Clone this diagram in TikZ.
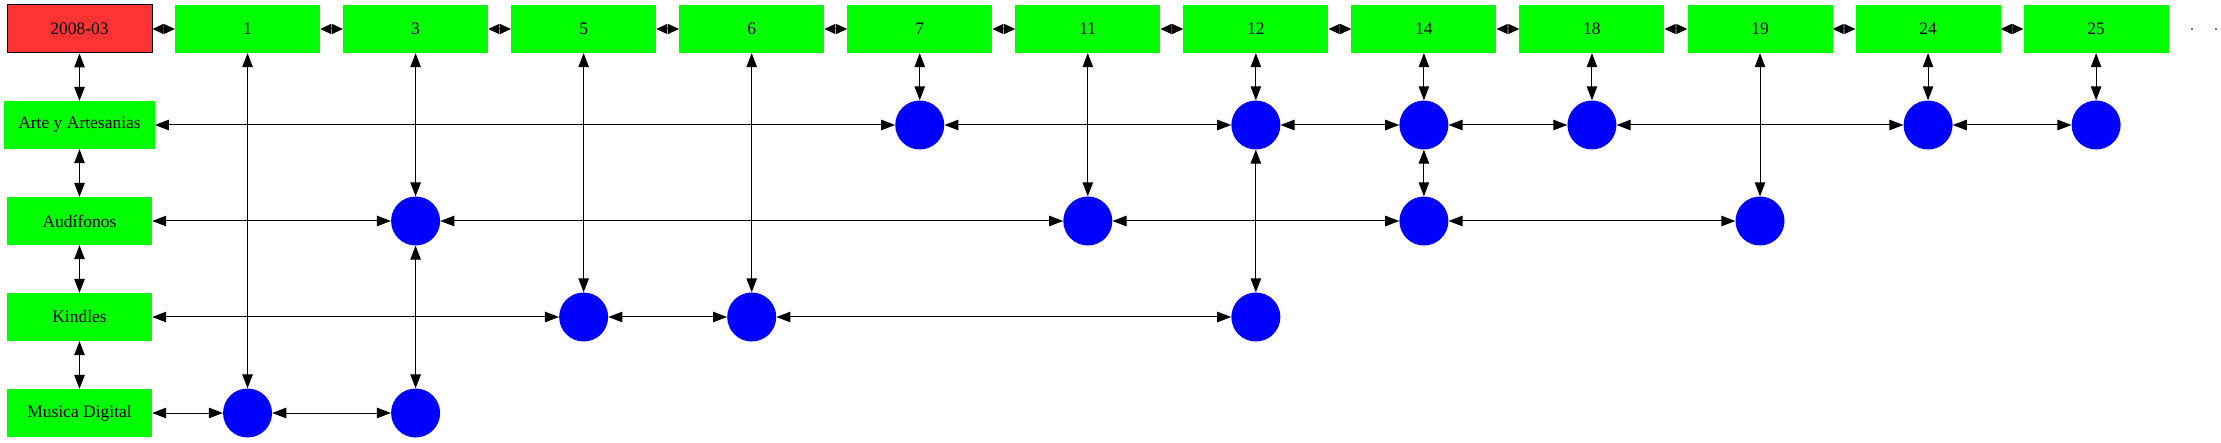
\documentclass[tikz,border=0pt]{standalone}
\usepackage{fontspec}
\setmainfont{Liberation Serif}
\usetikzlibrary{arrows.meta}
\definecolor{hitgreen}{RGB}{0,255,0}
\definecolor{hitred}{RGB}{255,51,51}
\definecolor{hitblue}{RGB}{0,0,255}
\definecolor{dotgray}{RGB}{120,120,120}
\tikzset{
  box/.style={fill=hitgreen, minimum width=145pt, minimum height=48pt, inner xsep=14pt,
    font=\fontsize{17.5}{20}\selectfont},
  dot/.style={circle, fill=hitblue, minimum size=49pt, inner sep=0pt},
  link/.style={{Triangle[length=14pt,width=10.5pt]}-{Triangle[length=14pt,width=10.5pt]}, line width=1pt},
  toplink/.style={{Triangle[length=11pt,width=10pt]}-{Triangle[length=11pt,width=10pt]}, line width=1pt}
}
\begin{document}
\begin{tikzpicture}[x=1pt,y=-1pt]
    \useasboundingbox (0,0) rectangle (2221,443);
    % month and hit columns
    \node[box, fill=hitred, draw=black, line width=1pt] (d) at (79.5,29) {2008-03};
    \foreach \n [count=\i] in {1,3,5,6,7,11,12,14,18,19,24,25}
    \node[box] (t\n) at (79.5+168.05*\i,29) {\n};
    \foreach \a/\b in {d/t1,t1/t3,t3/t5,t5/t6,t6/t7,t7/t11,t11/t12,t12/t14,t14/t18,t18/t19,t19/t24,t24/t25}
    \draw[toplink] (\a) -- (\b);
    \coordinate (moreA) at (2191,29);
    \coordinate (moreB) at (2221,29);
    \draw[dotgray, line width=1.3pt, dash pattern=on 2pt off 22pt] (moreA) -- (moreB);
    % categories
    \node[box] (arte) at (79.5,125) {Arte y Artesanias};
    \node[box] (audi) at (79.5,221) {Audífonos};
    \node[box] (kind) at (79.5,317) {Kindles};
    \node[box] (musi) at (79.5,413) {Musica Digital};
    % hits
    \foreach \c in {7,12,14,18,24,25} \node[dot] (a\c) at (t\c |- arte) {};
    \foreach \c in {3,11,14,19} \node[dot] (h\c) at (t\c |- audi) {};
    \foreach \c in {5,6,12} \node[dot] (k\c) at (t\c |- kind) {};
    \foreach \c in {1,3} \node[dot] (m\c) at (t\c |- musi) {};
    \foreach \a/\b in {arte/a7,a7/a12,a12/a14,a14/a18,a18/a24,a24/a25,
                       audi/h3,h3/h11,h11/h14,h14/h19,
                       kind/k5,k5/k6,k6/k12,
                       musi/m1,m1/m3}
    \draw[link] (\a) -- (\b);
    \foreach \a/\b in {d/arte,arte/audi,audi/kind,kind/musi,
                       t1/m1,t3/h3,h3/m3,t5/k5,t6/k6,t7/a7,t11/h11,t12/a12,a12/k12,
                       t14/a14,a14/h14,t18/a18,t19/h19,t24/a24,t25/a25}
    \draw[link] (\a) -- (\b);
  \end{tikzpicture}
\end{document}
